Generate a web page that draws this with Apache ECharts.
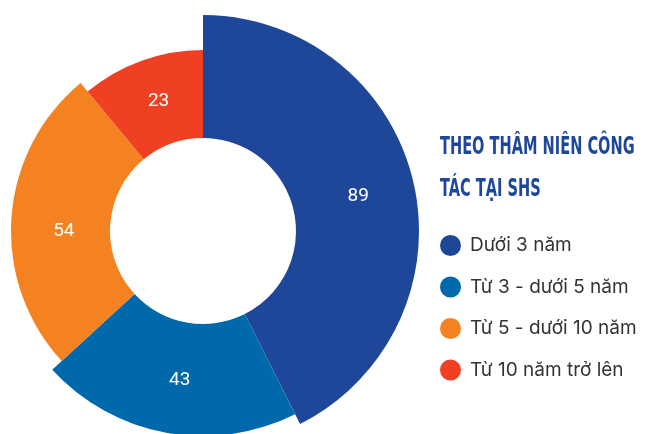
<!DOCTYPE html>
<html>
<head>
<meta charset="utf-8">
<script src="https://cdn.jsdelivr.net/npm/echarts@6/dist/echarts.min.js"></script>
<style>
  html, body { margin: 0; padding: 0; background: #fff; }
  #chart { width: 648px; height: 434px; }
</style>
</head>
<body>
<div id="chart"></div>
<script>
// Dữ liệu
const categories = ["Dưới 3 năm", "Từ 3 - dưới 5 năm", "Từ 5 - dưới 10 năm", "Từ 10 năm trở lên"];
const values = [89, 43, 54, 23];
const colors = ["#1f4799", "#0069ac", "#f58220", "#ef4023"];
const outerRadii = [216, 205, 192, 181];
const labelOffsets = [[2, 2], [4, 0], [6, 10], [3, 2]];
const titleText = "THEO THÂM NIÊN CÔNG\nTÁC TẠI SHS";

const chart = echarts.init(document.getElementById("chart"));

// mỗi series chỉ hiện một lát, các lát khác trong suốt
const series = values.map((_, i) => ({
    type: "pie",
    center: [203, 231],
    radius: [93, outerRadii[i]],
    startAngle: 90,
    clockwise: true,
    silent: true,
    z: 2 + i,
    data: categories.map((name, j) => ({
        name: name,
        value: values[j],
        itemStyle: { color: j === i ? colors[j] : "rgba(0,0,0,0)" },
        label: { show: j === i }
    })),
    label: {
        position: "inside",
        formatter: "{c}",
        color: "#fff",
        fontSize: 19,
        fontFamily: "Roboto",
        offset: labelOffsets[i]
    },
    labelLine: { show: false },
    emphasis: { disabled: true }
}));

chart.setOption({
    animation: false,
    graphic: [
        {
            type: "text",
            x: 440,
            y: 127,
            scaleX: 0.675,
            style: {
                text: titleText,
                fontFamily: "DejaVu Sans Condensed",
                fontWeight: "bold",
                fontSize: 24,
                lineHeight: 42,
                fill: "#1f4799",
                verticalAlign: "top"
            }
        }
    ],
    legend: {
        orient: "vertical",
        left: 435,
        top: 230,
        icon: "circle",
        itemWidth: 21,
        itemHeight: 21,
        itemGap: 20.5,
        selectedMode: false,
        textStyle: { fontSize: 19, color: "#333", fontFamily: "Inter", padding: [0, 0, 0, 4] },
        data: categories.map((name, i) => ({ name: name, itemStyle: { color: colors[i] } }))
    },
    series: series
});
</script>
</body>
</html>
